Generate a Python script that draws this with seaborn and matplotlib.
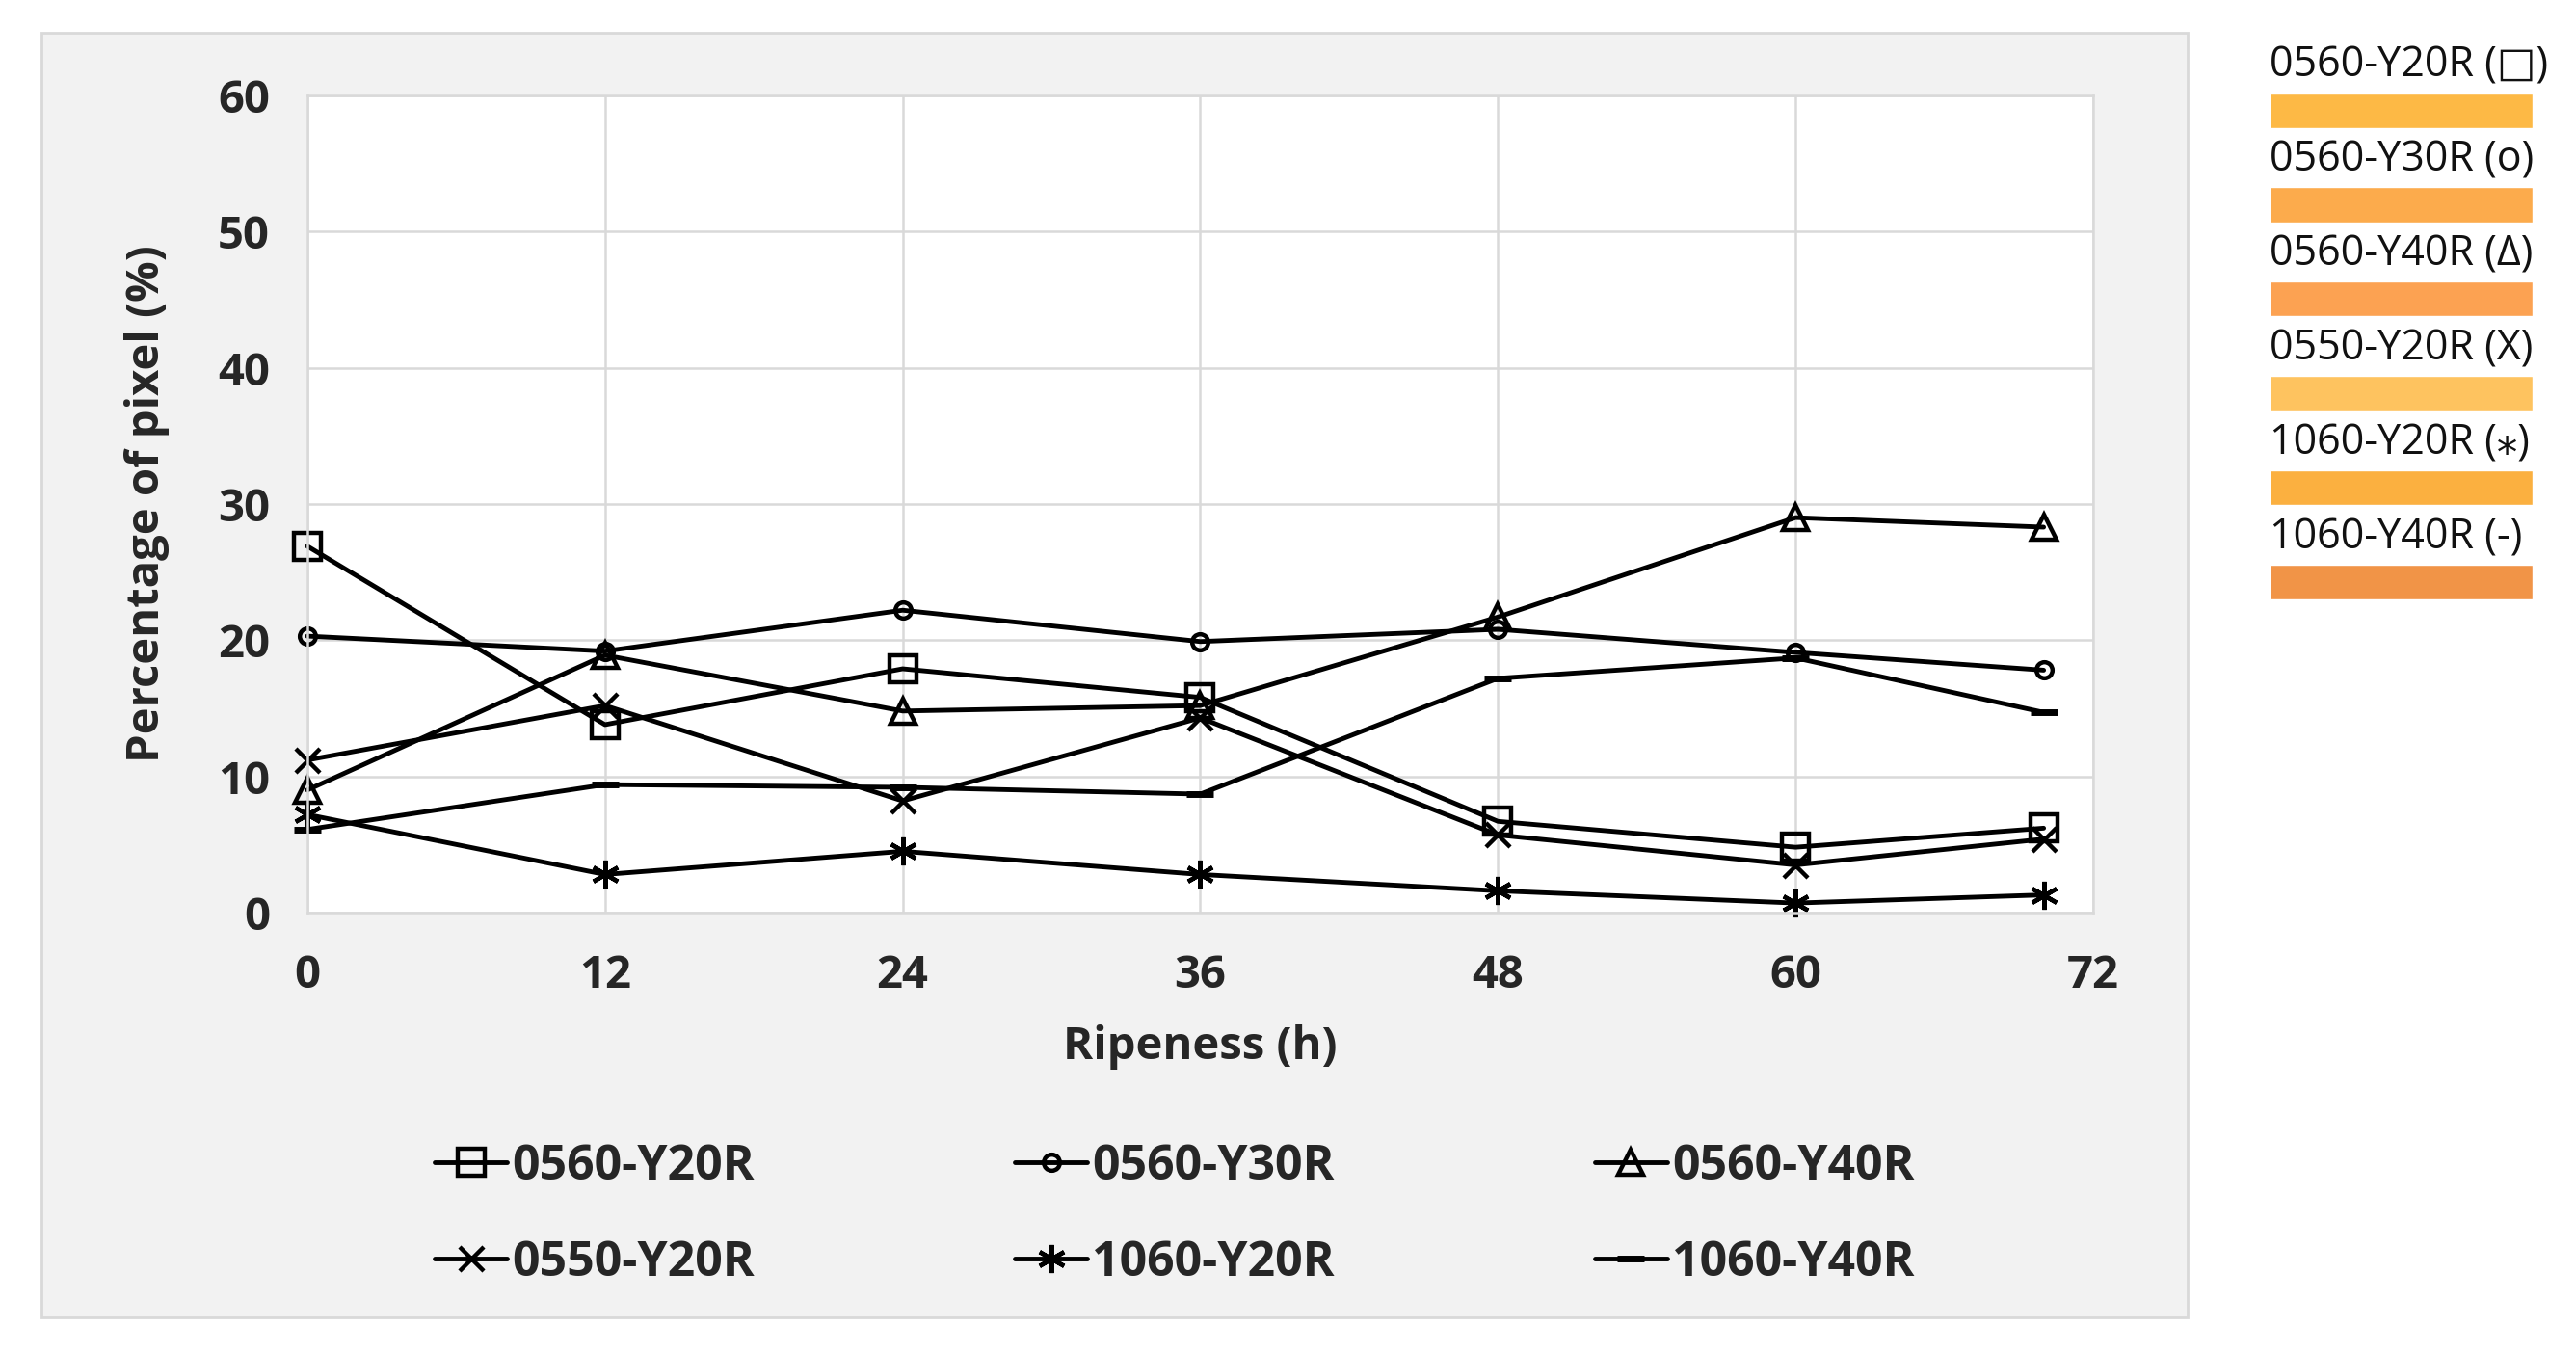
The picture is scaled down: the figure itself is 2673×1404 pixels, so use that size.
import matplotlib
matplotlib.use("Agg")
import matplotlib.pyplot as plt
import seaborn as sns
import pandas as pd
from matplotlib.patches import Rectangle

# ripeness time points (h)
hours = [0, 12, 24, 36, 48, 60, 70]

series_names = ["0560-Y20R", "0560-Y30R", "0560-Y40R", "0550-Y20R", "1060-Y20R", "1060-Y40R"]
y20r_0560 = [26.9, 13.8, 17.9, 15.8, 6.7, 4.8, 6.2]
y30r_0560 = [20.3, 19.2, 22.2, 19.9, 20.8, 19.1, 17.8]
y40r_0560 = [9.0, 18.9, 14.8, 15.2, 21.7, 29.0, 28.3]
y20r_0550 = [11.2, 15.2, 8.2, 14.3, 5.7, 3.5, 5.4]
y20r_1060 = [7.2, 2.8, 4.5, 2.8, 1.6, 0.7, 1.3]
y40r_1060 = [6.1, 9.4, 9.2, 8.7, 17.2, 18.7, 14.7]
all_values = [y20r_0560, y30r_0560, y40r_0560, y20r_0550, y20r_1060, y40r_1060]

x_ticks = [0, 12, 24, 36, 48, 60, 72]
y_ticks = [0, 10, 20, 30, 40, 50, 60]

swatch_labels = ["0560-Y20R (\u25a1)", "0560-Y30R (o)", "0560-Y40R (\u0394)",
                 "0550-Y20R (X)", "1060-Y20R (\u204e)", "1060-Y40R (-)"]
swatch_colors = ["#FDB945", "#FCAB4C", "#FCA252", "#FEC35F", "#FBB040", "#F19447"]

df = pd.DataFrame({
    "hours": hours * len(series_names),
    "value": [v for vals in all_values for v in vals],
    "series": [n for n in series_names for _ in hours],
})

markers = {
    "0560-Y20R": dict(marker="s", markersize=20),
    "0560-Y30R": dict(marker="o", markersize=12),
    "0560-Y40R": dict(marker="^", markersize=19),
    "0550-Y20R": dict(marker="x", markersize=18),
    "1060-Y20R": dict(marker=(6, 2, 0), markersize=21),
    "1060-Y40R": dict(marker="_", markersize=20),
}

sns.set_style("white")
plt.rcParams["font.family"] = ["Open Sans", "DejaVu Sans"]

fig = plt.figure(figsize=(26.73, 14.04), dpi=100)
fig.patch.set_facecolor("white")

# grey chart area
fig.patches.append(Rectangle((0.0161, 0.0264), 0.8330, 0.9494, transform=fig.transFigure,
                             facecolor="#F2F2F2", edgecolor="#D9D9D9", linewidth=2, zorder=-10))

ax = fig.add_axes([0.1193, 0.3255, 0.6933, 0.6040])
ax.set_facecolor("white")

for name in series_names:
    sub = df[df["series"] == name]
    sns.lineplot(data=sub, x="hours", y="value", ax=ax, color="black", linewidth=3.5,
                 markerfacecolor="none", markeredgecolor="black",
                 markeredgewidth=3.2 if name != "1060-Y40R" else 5,
                 clip_on=False, label=name, **markers[name])

ax.set_xlim(0, 72)
ax.set_ylim(0, 60)
ax.set_xticks(x_ticks)
ax.set_yticks(y_ticks)
ax.grid(True, color="#D9D9D9", linewidth=1.8)
ax.set_axisbelow(True)
for sp in ax.spines.values():
    sp.set_color("#D9D9D9")
    sp.set_linewidth(1.8)
ax.tick_params(axis="both", length=0, labelsize=34)
ax.tick_params(axis="x", pad=30)
ax.tick_params(axis="y", pad=28)
for lab in ax.get_xticklabels() + ax.get_yticklabels():
    lab.set_fontweight("bold")
ax.set_xlabel("Ripeness (h)", fontsize=34, fontweight="bold", labelpad=20)
ax.set_ylabel("Percentage of pixel (%)", fontsize=34, fontweight="bold", labelpad=36)

lines = list(ax.lines)
ax.get_legend().remove()
order = [0, 3, 1, 4, 2, 5]
fig.legend([lines[i] for i in order], [series_names[i] for i in order],
           loc="center", bbox_to_anchor=(0.456, 0.102), ncol=3, frameon=False,
           prop={"weight": "bold", "size": 36}, handlelength=1.5, handletextpad=0.1,
           columnspacing=5.4, labelspacing=1.0)

# colour swatches on the right
leg_ax = fig.add_axes([0.881, 0.549, 0.102, 0.432])
idx = list(range(len(swatch_labels)))
leg_ax.barh(idx, [1] * len(idx), height=0.37, color=swatch_colors, left=0)
for i, lab in zip(idx, swatch_labels):
    leg_ax.text(0, i - 0.47, lab, fontsize=31, va="center", ha="left", color="#111111")
leg_ax.set_xlim(0, 1)
leg_ax.set_ylim(5.3, -0.9)
leg_ax.axis("off")

fig.savefig("out.png", dpi=100)
